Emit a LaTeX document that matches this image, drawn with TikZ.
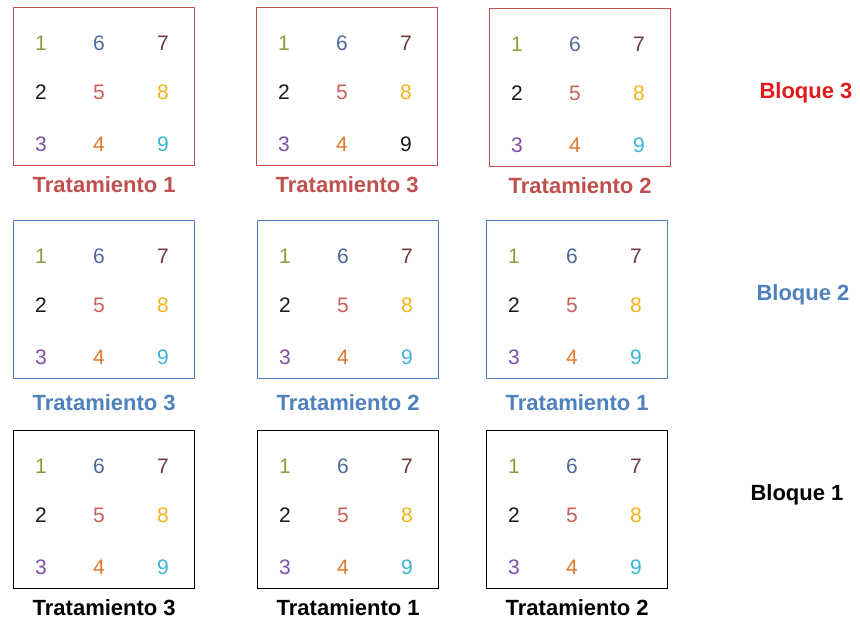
\documentclass[tikz,border=0pt]{standalone}
\usepackage{fontspec}
\setmainfont{Liberation Sans}
\usetikzlibrary{positioning}
\definecolor{bloquered}{HTML}{C0504D}
\definecolor{bloqueblue}{HTML}{4F81BD}
\definecolor{titlered}{HTML}{E01A1A}
\definecolor{digone}{HTML}{8E9B3C}
\definecolor{digsix}{HTML}{4F6A9A}
\definecolor{digseven}{HTML}{6B3B3B}
\definecolor{digtwo}{HTML}{1A1A1A}
\definecolor{digfive}{HTML}{C8605A}
\definecolor{digeight}{HTML}{F2B21C}
\definecolor{digthree}{HTML}{7F4FA8}
\definecolor{digfour}{HTML}{E0782A}
\definecolor{dignine}{HTML}{3AB4D8}

\begin{document}
\begin{tikzpicture}[x=1pt, y=-1pt,
  plot/.style={draw, line width=1.4pt, minimum width=181pt, minimum height=158pt, inner sep=0pt, anchor=north west},
  num/.style={font=\fontsize{21}{25}\selectfont, inner sep=0pt},
  trat/.style={font=\fontsize{22}{26}\selectfont\bfseries, inner sep=0pt}]
  \useasboundingbox (0,0) rectangle (860,621);

  % parcelas: x/y/color/tratamiento/color del 9/separacion/nombre
  \foreach \bx/\by/\bcol/\btrat/\nine/\sep/\name in {
      13/7/bloquered/Tratamiento 1/dignine/10/a1,
      256/7/bloquered/Tratamiento 3/digtwo/10/a2,
      489/8/bloquered/Tratamiento 2/dignine/10/a3,
      13/220/bloqueblue/Tratamiento 3/dignine/15/b1,
      257/220/bloqueblue/Tratamiento 2/dignine/15/b2,
      486/220/bloqueblue/Tratamiento 1/dignine/15/b3,
      13/430/black/Tratamiento 3/dignine/10/c1,
      257/430/black/Tratamiento 1/dignine/10/c2,
      486/430/black/Tratamiento 2/dignine/10/c3} {
    \node[plot, draw=\bcol] (\name) at (\bx,\by) {};
    \node[trat, text=\bcol, below=\sep pt of \name] (\name-t) {\btrat};
    \foreach \cx/\cy/\d/\dcol in {
        28/36/1/digone, 86/36/6/digsix, 150/36/7/digseven,
        28/85/2/digtwo, 86/85/5/digfive, 150/85/8/digeight,
        28/137/3/digthree, 86/137/4/digfour, 150/137/9/\nine}
      \node[num, text=\dcol] (\name-\d) at (\bx+\cx,\by+\cy) {\d};
  }

  % bloques
  \node[trat, text=titlered] (bloq3) at (806,93) {Bloque 3};
  \node[trat, text=bloqueblue] (bloq2) at (803,295) {Bloque 2};
  \node[trat, text=black] (bloq1) at (797,495) {Bloque 1};
\end{tikzpicture}
\end{document}
